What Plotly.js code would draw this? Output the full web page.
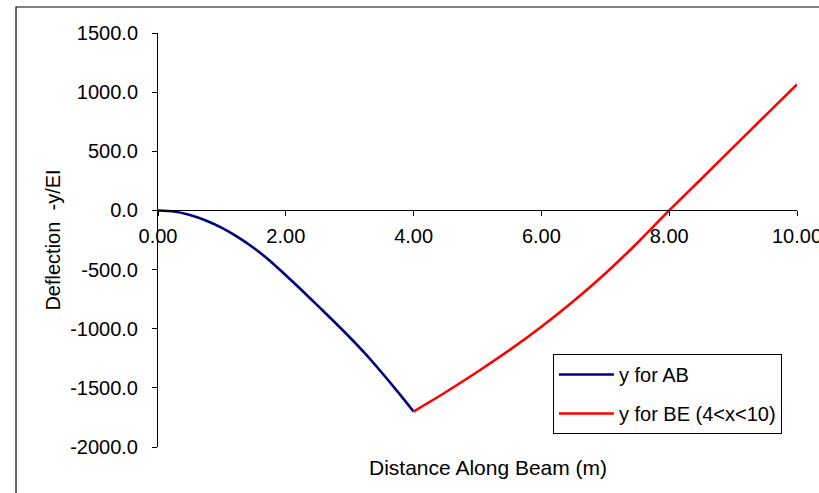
<!DOCTYPE html>
<html>
<head>
<meta charset="utf-8">
<script src="https://cdn.plot.ly/plotly-3.0.1.min.js"></script>
<style>html,body{margin:0;padding:0;background:#fff;}#chart{width:819px;height:493px;}</style>
</head>
<body>
<div id="chart"></div>
<script>
// Segment AB (0 <= x <= 4)
const xAB = [0, 0.25, 0.5, 0.75, 1.0, 1.25, 1.5, 1.75, 2.0, 2.25, 2.5, 2.75, 3.0, 3.25, 3.5, 3.75, 4.0];
const yAB = [0, -9, -38, -85, -148, -226, -318, -425, -548, -675, -805, -937, -1072, -1215, -1370, -1532, -1700];
// Segment BE (4 <= x <= 10)
const xBE = [4.0, 4.5, 5.0, 5.5, 6.0, 6.5, 7.0, 7.5, 8.0, 8.5, 9.0, 9.5, 10.0];
const yBE = [-1700, -1537, -1364, -1181, -983, -768, -533, -275, 0, 266, 533, 800, 1065];

const xTicks = [0, 2, 4, 6, 8, 10];
const xTickText = ['0.00', '2.00', '4.00', '6.00', '8.00', '10.00'];
const yTicks = [-2000, -1500, -1000, -500, 0, 500, 1000, 1500];
const yTickText = ['-2000.0', '-1500.0', '-1000.0', '-500.0', '0.0', '500.0', '1000.0', '1500.0'];

const seriesNames = ['y for AB', 'y for BE (4<x<10)'];
const xTitle = 'Distance Along Beam (m)';
const yTitle = 'Deflection\u00a0\u00a0-y/EI';

const FONT = 'Liberation Sans, Arial, sans-serif';
const FS = 20;

const traces = [
  {x: xAB, y: yAB, mode: 'lines', name: seriesNames[0], legendgroup: 'a',
   line: {color: '#000080', width: 2.6, shape: 'spline', smoothing: 0.8}},
  {x: xBE, y: yBE, mode: 'lines', name: seriesNames[1], legendgroup: 'b',
   line: {color: '#FF0000', width: 2.6, shape: 'spline', smoothing: 0.8}}
];

const layout = {
  width: 819, height: 493,
  margin: {l: 158, r: 22, t: 33, b: 46},
  paper_bgcolor: '#ffffff', plot_bgcolor: '#ffffff',
  font: {family: FONT, size: FS, color: '#000'},
  showlegend: true,
  legend: {
    x: 0.618, y: 0.2246, xanchor: 'left', yanchor: 'top',
    bordercolor: '#000', borderwidth: 1, bgcolor: '#fff',
    font: {family: FONT, size: FS, color: '#000'},
    traceorder: 'grouped', tracegroupgap: 10,
    itemwidth: 55, entrywidth: 199
  },
  xaxis: {
    range: [0, 10], tickvals: xTicks, ticktext: xTickText,
    anchor: 'free', position: 2000 / 3500,
    showline: true, linecolor: '#000', linewidth: 1,
    ticks: 'outside', ticklen: 5, tickcolor: '#000',
    ticklabeloverflow: 'allow', ticklabelstandoff: 3,
    showgrid: false, zeroline: false,
    tickfont: {family: FONT, size: FS, color: '#000'}
  },
  yaxis: {
    range: [-2000, 1500], tickvals: yTicks, ticktext: yTickText,
    showline: true, linecolor: '#000', linewidth: 1,
    ticks: 'outside', ticklen: 5, tickcolor: '#000',
    ticklabelstandoff: 10,
    showgrid: false, zeroline: false,
    tickfont: {family: FONT, size: FS, color: '#000'},
    title: {text: yTitle, font: {family: FONT, size: FS, color: '#000'}, standoff: 4}
  },
  annotations: [
    {text: xTitle, xref: 'paper', yref: 'paper', x: 0.516, y: -0.0507,
     xanchor: 'center', yanchor: 'middle', showarrow: false,
     font: {family: FONT, size: 21, color: '#000'}}
  ],
  shapes: [
    {type: 'rect', xref: 'paper', yref: 'paper', x0: -0.2222, x1: 1.5, y0: -0.5, y1: 1.0628,
     line: {color: '#000', width: 1.2}, fillcolor: 'rgba(0,0,0,0)', layer: 'below'}
  ]
};

Plotly.newPlot('chart', traces, layout, {displayModeBar: false, staticPlot: true});
</script>
</body>
</html>
